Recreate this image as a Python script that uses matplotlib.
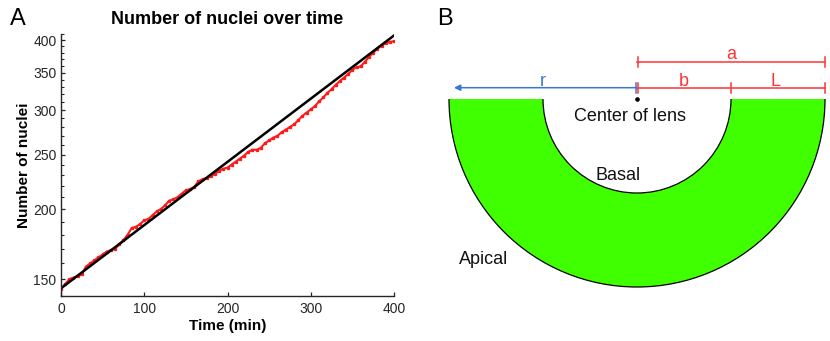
import matplotlib.pyplot as plt
import numpy as np
from matplotlib.patches import Wedge, Arc

plt.rcParams['font.family'] = ['Liberation Sans', 'DejaVu Sans']

# Panel A data
time_min = np.arange(0, 401, 5)
nuclei_count = [144, 147, 150, 151, 152, 153, 158, 160, 162, 164,
                166, 168, 169, 170, 173, 176, 180, 185, 186, 188,
                191, 192, 195, 198, 200, 203, 207, 208, 210, 213,
                216, 217, 219, 224, 226, 227, 229, 231, 234, 236,
                237, 240, 243, 246, 249, 253, 255, 255, 257, 262,
                265, 268, 270, 274, 277, 280, 283, 288, 293, 297,
                301, 305, 311, 316, 322, 327, 333, 338, 343, 348,
                354, 358, 359, 366, 373, 380, 386, 391, 395, 397, 398]
fit_time = [0, 400]
fit_count = [144.5, 407.5]
y_major = [150, 200, 250, 300, 350, 400]
y_minor = [140, 160, 170, 180, 190, 210, 220, 230, 240, 260, 270, 280, 290,
           310, 320, 330, 340, 360, 370, 380, 390, 410]
x_major = [0, 100, 200, 300, 400]

# Panel B geometry (pixels, centre of lens at origin)
b_len = 94
L_len = 94
a_len = b_len + L_len
r_len = 183

W, H = 830, 341
fig = plt.figure(figsize=(W / 100, H / 100), dpi=100)
dark = '#262626'

# ---- Panel A ----
ax = fig.add_axes([61 / W, 1 - 296 / H, 333 / W, 262 / H])
ax.plot(time_min, nuclei_count, color='#ff1a1a', lw=1.5, marker='s', ms=1.4)
ax.plot(fit_time, fit_count, color='black', lw=1.8)
ax.set_yscale('log')
ax.set_xlim(0, 400)
ax.set_ylim(140, 410)
ax.set_yticks(y_major, [str(v) for v in y_major])
ax.set_yticks(y_minor, minor=True)
ax.yaxis.set_minor_formatter(plt.NullFormatter())
ax.set_xticks(x_major, [str(v) for v in x_major])
ax.xaxis.set_minor_locator(plt.NullLocator())
for s in ['top', 'right']:
    ax.spines[s].set_visible(False)
for s in ['left', 'bottom']:
    ax.spines[s].set_color(dark)
    ax.spines[s].set_linewidth(1.0)
ax.tick_params(which='major', direction='in', length=3.2, width=0.9,
               color=dark, labelcolor=dark, labelsize=10)
ax.tick_params(which='minor', direction='in', length=2, width=0.8, color=dark)
ax.tick_params(axis='y', pad=3.3)
ax.tick_params(axis='x', pad=4.5)
ax.set_title('Number of nuclei over time', fontsize=13, fontweight='bold', pad=7.5)
fig.text(228 / W, 1 - 326 / H, 'Time (min)', fontsize=11, fontweight='bold',
         ha='center', va='center')
fig.text(23.5 / W, 1 - 165 / H, 'Number of nuclei', fontsize=11, fontweight='bold',
         ha='center', va='center', rotation=90)
fig.text(10 / W, 1 - 25 / H, 'A', fontsize=17, va='baseline')
fig.text(437 / W, 1 - 25 / H, 'B', fontsize=17, va='baseline')

# ---- Panel B ----
bx = fig.add_axes([430 / W, 0, 400 / W, 1])
bx.set_xlim(-207, 193)
bx.set_ylim(-242, 99)
bx.axis('off')

green = '#40ff00'
red = '#ff3333'
blue = '#3a76d6'

bx.add_patch(Wedge((0, 0), a_len, 180, 360, width=L_len, facecolor=green, edgecolor='none'))
bx.add_patch(Arc((0, 0), 2 * a_len, 2 * a_len, theta1=180, theta2=360, color='black', lw=0.9))
bx.add_patch(Arc((0, 0), 2 * b_len, 2 * b_len, theta1=180, theta2=360, color='black', lw=0.9))
bx.plot([0], [0], 'o', color='black', ms=2.3)

# dimension lines
y_low, y_high, tick = 11.3, 37, 5
bx.plot([0, a_len], [y_low, y_low], color=red, lw=1.1)
bx.plot([0, a_len], [y_high, y_high], color=red, lw=1.1)
for x in [0.8, b_len, a_len]:
    bx.plot([x, x], [y_low - tick, y_low + tick], color=red, lw=1.1)
for x in [0.8, a_len]:
    bx.plot([x, x], [y_high - tick, y_high + tick], color=red, lw=1.1)
bx.annotate('', xy=(-r_len, y_low), xytext=(-0.5, y_low),
            arrowprops=dict(arrowstyle='-|>', color=blue, lw=1.1,
                            mutation_scale=9, shrinkA=0, shrinkB=0))
bx.plot([-0.8, -0.8], [y_low - tick, y_low + tick], color=blue, lw=1.1)

bx.text(a_len / 2, 39.7, 'a', color=red, fontsize=13, ha='center', va='baseline')
bx.text(b_len / 2, 13.5, 'b', color=red, fontsize=13, ha='center', va='baseline')
bx.text(b_len + L_len / 2 - 2, 13.5, 'L', color=red, fontsize=13, ha='center', va='baseline')
bx.text(-94, 13.5, 'r', color=blue, fontsize=13, ha='center', va='baseline')
bx.text(-7.3, -21.7, 'Center of lens', color='#111111', fontsize=13, ha='center', va='baseline')
bx.text(-18.7, -81, 'Basal', color='#111111', fontsize=13, ha='center', va='baseline')
bx.text(-153.7, -165.3, 'Apical', color='#111111', fontsize=13, ha='center', va='baseline')

fig.savefig('out.png', dpi=100)
